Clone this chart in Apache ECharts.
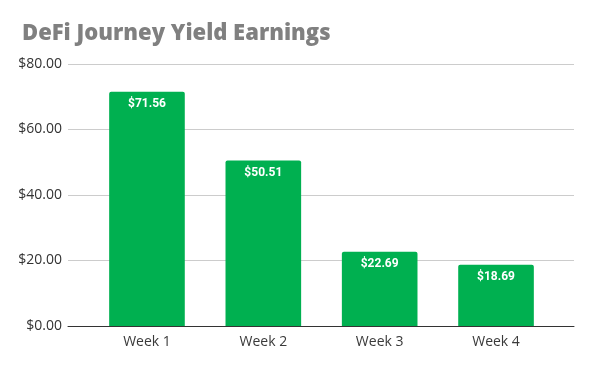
<!DOCTYPE html>
<html><head><meta charset="utf-8">
<script src="https://cdn.jsdelivr.net/npm/echarts@6/dist/echarts.min.js"></script>
<style>html,body{margin:0;padding:0;background:#fff}#c{width:593px;height:367px}</style>
</head><body><div id="c"></div>
<script>
const titleText = 'DeFi Journey Yield Earnings';
const categories = ['Week 1', 'Week 2', 'Week 3', 'Week 4'];
const earnings = [71.56, 50.51, 22.69, 18.69];
const yTicks = [0, 20, 40, 60, 80];

const chart = echarts.init(document.getElementById('c'), null, {renderer: 'canvas'});
const fmt = v => '$' + Number(v).toFixed(2);
chart.setOption({
  animation: false,
  backgroundColor: '#fff',
  title: {
    text: titleText, left: 17, top: 18,
    textStyle: {fontFamily: 'Open Sans', fontWeight: 800, fontSize: 22, color: '#808080'}
  },
  grid: [
    {left: 68, right: 19, top: 64, bottom: 41},
    {left: 88.8, right: 38.8, top: 64, bottom: 41}
  ],
  xAxis: [
    {gridIndex: 0, type: 'value', min: 0, max: 1, axisLabel: {show: false}, axisTick: {show: false},
     splitLine: {show: false}, axisLine: {show: true, lineStyle: {color: '#333', width: 1}}},
    {gridIndex: 1, type: 'category', data: categories, axisLine: {show: false}, axisTick: {show: false},
     axisLabel: {color: '#3a3a3a', fontFamily: 'Open Sans', fontSize: 14, margin: 9}}
  ],
  yAxis: [
    {gridIndex: 0, type: 'value', min: yTicks[0], max: yTicks[yTicks.length - 1], interval: yTicks[1] - yTicks[0],
     axisLine: {show: false}, axisTick: {show: false},
     axisLabel: {formatter: fmt, color: '#333', fontFamily: 'Open Sans', fontSize: 14, margin: 6},
     splitLine: {lineStyle: {color: '#cccccc', width: 1}}},
    {gridIndex: 1, type: 'value', min: yTicks[0], max: yTicks[yTicks.length - 1], show: false, splitLine: {show: false}}
  ],
  series: [{
    type: 'bar', xAxisIndex: 1, yAxisIndex: 1, data: earnings,
    barWidth: '65%',
    itemStyle: {color: '#00b050', borderRadius: [2, 2, 0, 0]},
    label: {show: true, position: 'insideTop', distance: 6, formatter: p => fmt(p.value),
      color: '#fff', fontFamily: 'Roboto', fontWeight: 'bold', fontSize: 12}
  }]
});
</script></body></html>
